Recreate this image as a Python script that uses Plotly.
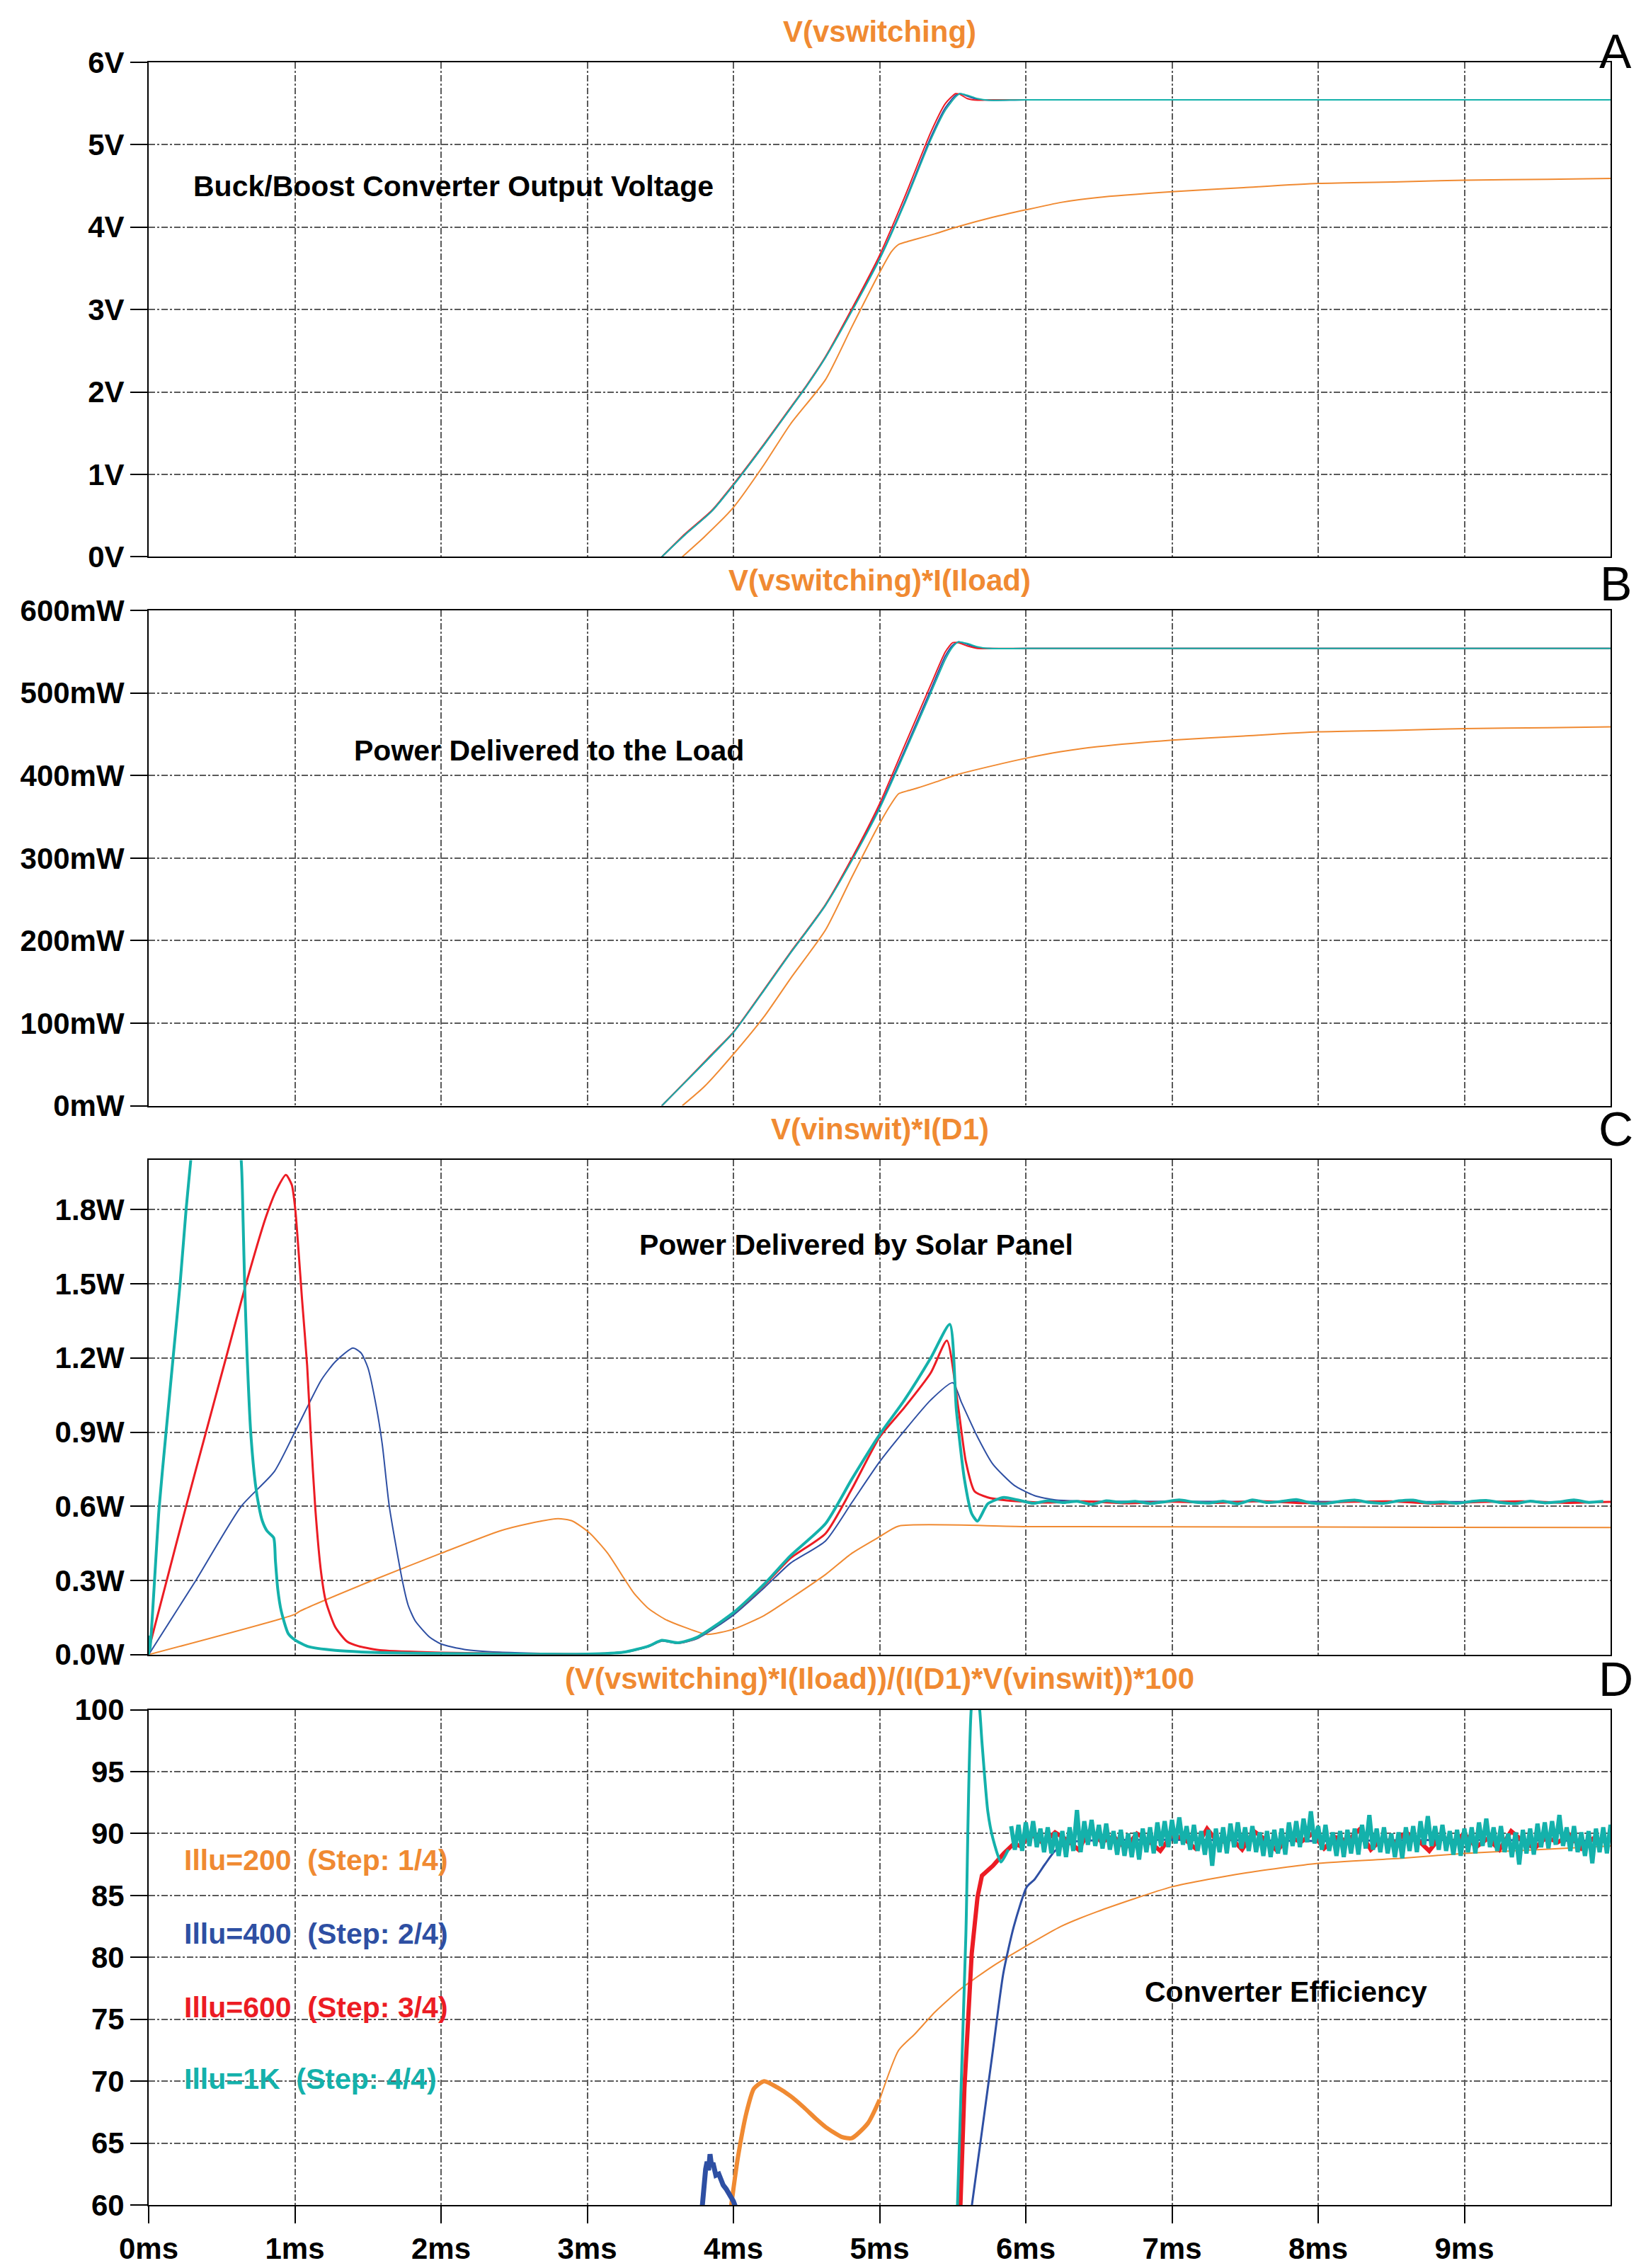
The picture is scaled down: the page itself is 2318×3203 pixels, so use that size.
import plotly.graph_objects as go
from plotly.subplots import make_subplots

# ---------------- colours of the four parameter steps ----------------
ORANGE = '#F08A32'
BLUE = '#2E4FA3'
RED = '#EC1C24'
CYAN = '#14B1AB'

# ---------------- axis ticks ----------------
x_tickvals = [0, 1, 2, 3, 4, 5, 6, 7, 8, 9]
x_ticktext = ['0ms', '1ms', '2ms', '3ms', '4ms', '5ms', '6ms', '7ms', '8ms', '9ms']
a_tickvals = [0, 1, 2, 3, 4, 5, 6]
a_ticktext = ['0V', '1V', '2V', '3V', '4V', '5V', '6V']
b_tickvals = [0, 100, 200, 300, 400, 500, 600]
b_ticktext = ['0mW', '100mW', '200mW', '300mW', '400mW', '500mW', '600mW']
c_tickvals = [0, 0.3, 0.6, 0.9, 1.2, 1.5, 1.8]
c_ticktext = ['0.0W', '0.3W', '0.6W', '0.9W', '1.2W', '1.5W', '1.8W']
d_tickvals = [60, 65, 70, 75, 80, 85, 90, 95, 100]
d_ticktext = ['60', '65', '70', '75', '80', '85', '90', '95', '100']

# ---------------- panel A: V(vswitching) [V] ----------------
t_a_fast = [3.51, 3.67, 3.85, 4.0, 4.21, 4.39, 4.5, 4.63, 4.81, 5.0, 5.17, 5.35,
            5.45, 5.52, 5.55, 5.6, 5.67, 5.75, 6.0, 10.0]
v_a_blue = [0, 0.27, 0.55, 0.87, 1.36, 1.80, 2.07, 2.42, 2.99, 3.62, 4.30, 5.09,
            5.45, 5.60, 5.62, 5.59, 5.55, 5.54, 5.545, 5.545]
v_a_red = [0, 0.28, 0.56, 0.88, 1.37, 1.81, 2.08, 2.43, 3.01, 3.66, 4.36, 5.15,
           5.50, 5.62, 5.61, 5.56, 5.54, 5.545, 5.545, 5.545]
v_a_cyan = [0, 0.27, 0.55, 0.87, 1.36, 1.80, 2.07, 2.42, 2.98, 3.61, 4.28, 5.06,
            5.42, 5.58, 5.62, 5.60, 5.56, 5.54, 5.545, 5.545]
t_a_orange = [3.65, 3.8, 4.0, 4.21, 4.39, 4.63, 4.81, 5.0, 5.08, 5.13, 5.18, 5.24,
              5.38, 5.525, 5.775, 6.0, 6.24, 6.49, 7.0, 7.49, 8.0, 8.56, 9.0, 9.57,
              10.0]
v_a_orange = [0, 0.24, 0.60, 1.12, 1.61, 2.15, 2.79, 3.45, 3.70, 3.79, 3.82, 3.85,
              3.92, 4.0, 4.12, 4.21, 4.30, 4.36, 4.43, 4.48, 4.53, 4.55, 4.57, 4.58,
              4.59]

# ---------------- panel B: V(vswitching)*I(Iload) [mW] ----------------
t_b_fast = [3.51, 3.67, 3.85, 4.0, 4.21, 4.39, 4.5, 4.63, 4.81, 5.0, 5.17, 5.35,
            5.45, 5.5, 5.54, 5.6, 5.67, 5.75, 6.0, 10.0]
p_b_blue = [0, 28.5, 61, 88.7, 140, 185, 211, 243, 298, 362, 430, 504,
            545, 558, 562, 559, 555, 554, 554, 554]
p_b_red = [0, 29, 62, 89.5, 141, 186, 212, 244, 300, 366, 436, 510,
           550, 561, 561, 557, 554, 554, 554, 554]
p_b_cyan = [0, 28.5, 61, 88.7, 140, 185, 211, 243, 297, 360, 427, 500,
            541, 556, 562, 560, 556, 554, 554, 554]
t_b_orange = [3.65, 3.8, 4.0, 4.21, 4.39, 4.63, 4.81, 5.0, 5.08, 5.13, 5.2, 5.26,
              5.38, 5.525, 5.775, 6.0, 6.24, 6.49, 7.0, 7.49, 8.0, 8.56, 9.0, 9.57,
              10.0]
p_b_orange = [0, 23, 62.5, 108, 154, 213, 277, 342, 366, 378, 382, 385,
              392, 401, 412, 421, 429, 435, 443, 448, 453, 455, 457, 458, 459]

# ---------------- panel C: V(vinswit)*I(D1) [W] ----------------
t_c_orange = [0, 1.0, 1.035, 1.53, 2.0, 2.4, 2.6, 2.8, 2.9, 3.02, 3.14, 3.25, 3.32,
              3.42, 3.53, 3.67, 3.82, 4.0, 4.21, 4.39, 4.63, 4.81, 5.0, 5.13, 6.0,
              8.0, 10.0]
p_c_orange = [0, 0.163, 0.176, 0.30, 0.41, 0.50, 0.53, 0.55, 0.54, 0.49, 0.41, 0.31,
              0.248, 0.186, 0.144, 0.11, 0.082, 0.103, 0.158, 0.227, 0.324, 0.41,
              0.477, 0.52, 0.518, 0.516, 0.514]
t_c_blue = [0, 0.312, 0.633, 0.859, 1.0, 1.18, 1.277, 1.397, 1.453, 1.5, 1.558,
            1.598, 1.646, 1.735, 1.775, 1.823, 1.92, 2.0, 2.16, 2.4, 2.96, 3.25,
            3.42, 3.51, 3.62, 3.75, 4.0, 4.21, 4.39, 4.63, 4.81, 5.0, 5.17, 5.35,
            5.50, 5.56, 5.67, 5.775, 5.92, 6.06, 6.2, 6.5, 10.0]
p_c_blue = [0, 0.29, 0.60, 0.74, 0.90, 1.11, 1.185, 1.24, 1.22, 1.16, 1.00,
            0.85, 0.60, 0.30, 0.20, 0.137, 0.072, 0.043, 0.021, 0.010, 0.003, 0.01,
            0.032, 0.055, 0.046, 0.064, 0.16, 0.27, 0.37, 0.46, 0.615, 0.78, 0.906,
            1.03, 1.10, 1.02, 0.88, 0.77, 0.685, 0.643, 0.626, 0.62, 0.618]
t_c_red = [0, 0.119, 0.256, 0.392, 0.529, 0.666, 0.802, 0.875, 0.939, 0.979, 1.003,
           1.05, 1.084, 1.108, 1.14, 1.18, 1.212, 1.277, 1.357, 1.437, 1.6, 2.0,
           2.5, 3.0, 3.25, 3.42, 3.51, 3.62, 3.75, 4.0, 4.21, 4.39, 4.63, 4.81, 5.0,
           5.17, 5.35, 5.46, 5.54, 5.59, 5.65, 5.74, 5.85, 6.1, 6.4, 6.7, 7.0, 7.3,
           7.6, 7.9, 8.2, 8.5, 8.8, 9.1, 9.4, 9.7, 10.0]
p_c_red = [0.02, 0.29, 0.60, 0.90, 1.20, 1.50, 1.77, 1.88, 1.94, 1.90, 1.80,
           1.43, 1.17, 0.90, 0.59, 0.33, 0.215, 0.111, 0.053, 0.034, 0.017, 0.008,
           0.004, 0.002, 0.01, 0.034, 0.057, 0.047, 0.068, 0.168, 0.28, 0.39, 0.49,
           0.67, 0.88, 1.0, 1.14, 1.27, 0.99, 0.78, 0.66, 0.636, 0.625, 0.615, 0.62,
           0.612, 0.619, 0.614, 0.621, 0.613, 0.618, 0.62, 0.611, 0.617, 0.62, 0.614,
           0.618]
t_c_cyan = [0, 0.002, 0.008, 0.071, 0.119, 0.167, 0.215, 0.256, 0.288, 0.45, 0.633,
            0.646, 0.657, 0.674, 0.698, 0.73, 0.754, 0.778, 0.81, 0.855, 0.867,
            0.883, 0.907, 0.955, 1.0, 1.084, 1.277, 1.6, 2.2, 3.0, 3.25, 3.42, 3.51,
            3.62, 3.75, 4.0, 4.21, 4.39, 4.63, 4.81, 5.0, 5.17, 5.35, 5.48, 5.525,
            5.58, 5.63, 5.67, 5.74, 5.85]
p_c_cyan = [0, 0.072, 0.02, 0.59, 0.90, 1.2, 1.5, 1.8, 2.0, 3.0, 2.0,
            1.75, 1.49, 1.2, 0.90, 0.69, 0.60, 0.54, 0.50, 0.473, 0.38,
            0.266, 0.176, 0.085, 0.06, 0.034, 0.017, 0.008, 0.004, 0.002, 0.01,
            0.035, 0.058, 0.048, 0.07, 0.17, 0.285, 0.40, 0.53, 0.71, 0.89, 1.03,
            1.20, 1.336, 0.99, 0.71, 0.57, 0.54, 0.61, 0.636]
# settled, slightly noisy part of the cyan trace (samples every 0.1 ms from 5.95 ms)
c_cyan_settled_start = 5.95
c_cyan_settled_step = 0.1
p_c_cyan_settled = [0.625, 0.612, 0.622, 0.615, 0.62, 0.608, 0.622, 0.616, 0.62, 0.611,
                    0.618, 0.626, 0.617, 0.613, 0.621, 0.61, 0.626, 0.615, 0.62, 0.627,
                    0.614, 0.611, 0.62, 0.625, 0.616, 0.612, 0.622, 0.625, 0.614, 0.618,
                    0.612, 0.62, 0.624, 0.615, 0.611, 0.621, 0.614, 0.618, 0.626, 0.616,
                    0.62]

# ---------------- panel D: efficiency [%] ----------------
t_d_orange_early = [3.98, 4.0, 4.03, 4.09, 4.14, 4.21, 4.3, 4.39, 4.48, 4.57, 4.63,
                    4.74, 4.81, 4.92, 5.0]
e_d_orange_early = [59.5, 61.3, 63.8, 67.5, 69.4, 70.0, 69.5, 68.8, 67.9, 66.9, 66.3,
                    65.5, 65.4, 66.6, 68.5]
t_d_orange_late = [5.0, 5.13, 5.24, 5.38, 5.56, 5.775, 6.0, 6.24, 6.49, 7.0, 7.49,
                   8.0, 8.56, 9.0, 9.5, 10.0]
e_d_orange_late = [68.5, 72.5, 73.8, 75.6, 77.5, 79.3, 80.9, 82.5, 83.7, 85.7, 86.8,
                   87.6, 88.0, 88.4, 88.7, 89.0]
t_d_blue_bump = [3.78, 3.79, 3.80, 3.81, 3.82, 3.83, 3.84, 3.85, 3.86, 3.88, 3.9,
                 3.93, 3.95, 3.98, 4.0, 4.04]
e_d_blue_bump = [59, 60.5, 61.8, 62.9, 63.5, 62.8, 64.1, 63.2, 63.4, 62.4, 62.5,
                 61.6, 61.3, 60.8, 60.3, 59]
t_d_blue = [5.62, 5.704, 5.775, 5.846, 5.918, 6.007, 6.06, 6.13, 6.2, 6.3, 7.0,
            8.0, 9.0, 10.0]
e_d_blue = [59, 66.3, 72.5, 78.7, 82.5, 85.7, 86.3, 87.5, 88.6, 89.3, 89.5,
            89.4, 89.5, 89.4]
t_d_red = [5.55, 5.58, 5.63, 5.67, 5.70, 5.775, 5.85, 5.92]
e_d_red = [59, 69.4, 80.3, 84.9, 86.6, 87.4, 88.4, 89.2]
d_red_settled_start = 5.96
d_red_settled_step = 0.08
e_d_red_settled = [89.0, 89.9, 89.2, 90.1, 89.5, 88.7, 90.3, 89.3, 89.8, 88.8, 90.0,
                   89.4, 88.6, 89.9, 89.6, 88.8, 90.4, 89.2, 89.7, 88.7, 90.2, 89.5,
                   88.6, 89.8, 89.3, 90.0, 88.8, 89.7, 89.4, 90.3, 88.7, 89.6, 89.2,
                   90.1, 89.5, 88.6, 89.8, 89.3, 90.0, 88.9, 89.6, 88.7, 90.2, 89.4,
                   88.8, 89.7, 89.3, 89.9, 88.8, 89.6, 89.4]
t_d_cyan = [5.53, 5.59, 5.63, 5.655, 5.68, 5.70, 5.74, 5.775, 5.83, 5.88]
e_d_cyan = [59, 81.8, 100.5, 101.5, 100.5, 97.4, 91.8, 89.6, 87.7, 88.7]
# settled cyan efficiency, read every 0.025 ms from 5.9 ms (dense switching ripple)
d_cyan_settled_start = 5.9
d_cyan_settled_step = 0.025
e_d_cyan_settled = [
    90.6, 88.7, 90.7, 88.6, 90.9, 89.0, 91.0, 88.9, 90.4, 88.5, 90.5, 88.4,
    90.1, 88.2, 90.2, 88.1, 90.5, 88.6, 91.9, 88.5, 91.0, 89.1, 91.1, 89.0,
    90.7, 88.8, 90.8, 88.7, 90.2, 88.3, 90.3, 88.2, 90.0, 88.1, 90.1, 87.9,
    90.4, 88.5, 90.5, 88.4, 90.9, 89.0, 91.0, 88.9, 91.1, 89.2, 91.3, 89.1,
    90.6, 88.7, 90.7, 88.6, 90.2, 88.3, 90.3, 87.4, 90.4, 88.5, 90.5, 88.4,
    90.8, 88.9, 90.9, 88.8, 90.5, 88.6, 90.6, 88.5, 90.1, 88.2, 90.2, 88.1,
    90.3, 88.4, 90.4, 88.3, 90.9, 89.0, 91.0, 88.9, 91.2, 89.3, 91.8, 89.2,
    90.6, 88.7, 90.7, 88.6, 90.1, 88.2, 90.2, 88.1, 90.3, 88.4, 90.4, 88.3,
    90.7, 88.8, 91.5, 88.7, 90.4, 88.5, 90.5, 88.4, 90.0, 88.1, 90.1, 88.0,
    90.5, 88.6, 90.6, 88.5, 91.0, 89.1, 91.4, 89.0, 90.6, 88.7, 90.7, 88.6,
    90.2, 88.3, 90.3, 88.2, 90.4, 88.5, 90.5, 88.4, 90.9, 89.0, 91.2, 88.9,
    90.5, 88.6, 90.6, 88.5, 90.0, 88.1, 90.1, 87.5, 90.3, 88.4, 90.4, 88.3,
    90.8, 88.9, 90.9, 88.8, 91.0, 89.1, 91.5, 89.0, 90.5, 88.6, 90.6, 88.5,
    90.1, 88.2, 90.2, 87.6, 90.4, 88.5, 90.5, 88.4, 90.7, 88.8, 90.8, 88.7]

panel_titles = ['V(vswitching)', 'V(vswitching)*I(Iload)', 'V(vinswit)*I(D1)',
                '(V(vswitching)*I(Iload))/(I(D1)*V(vinswit))*100']
panel_letters = ['A', 'B', 'C', 'D']
panel_notes = ['Buck/Boost Converter Output Voltage', 'Power Delivered to the Load',
               'Power Delivered by Solar Panel', 'Converter Efficiency']
step_labels = ['Illu=200\u00a0 (Step: 1/4)', 'Illu=400\u00a0 (Step: 2/4)',
               'Illu=600\u00a0 (Step: 3/4)', 'Illu=1K\u00a0 (Step: 4/4)']
step_colors = [ORANGE, BLUE, RED, CYAN]


def sampled(start, step, values):
    '''Time base for evenly sampled simulator output.'''
    return [round(start + i * step, 4) for i in range(len(values))]


# ---------------- page geometry (pixels) ----------------
W, H = 2318, 3203
PLOT_L, PLOT_R = 202, 2267
PLOT_T, PLOT_B = 80, 3113
panel_px = [(80, 780), (856, 1557), (1634, 2334), (2412, 3113)]
FONT = 'Liberation Sans, Arial, sans-serif'


def px_x(px):
    return (px - PLOT_L) / (PLOT_R - PLOT_L)


def px_y(py):
    return (PLOT_B - py) / (PLOT_B - PLOT_T)


fig = make_subplots(rows=4, cols=1, shared_xaxes=True, vertical_spacing=0.02)


def line(x, y, color, width, row, smooth=True):
    shape = {'shape': 'spline', 'smoothing': 0.6} if smooth else {}
    fig.add_trace(go.Scatter(x=x, y=y, mode='lines',
                             line={'color': color, 'width': width, **shape},
                             hoverinfo='skip', showlegend=False), row=row, col=1)


# Panel A
line(t_a_orange, v_a_orange, ORANGE, 2, 1)
line(t_a_fast, v_a_blue, BLUE, 2, 1)
line(t_a_fast, v_a_red, RED, 2, 1)
line(t_a_fast, v_a_cyan, CYAN, 2, 1)

# Panel B
line(t_b_orange, p_b_orange, ORANGE, 2, 2)
line(t_b_fast, p_b_blue, BLUE, 2, 2)
line(t_b_fast, p_b_red, RED, 2, 2)
line(t_b_fast, p_b_cyan, CYAN, 2, 2)

# Panel C
line(t_c_orange, p_c_orange, ORANGE, 2, 3)
line(t_c_blue, p_c_blue, BLUE, 2, 3)
line(t_c_red, p_c_red, RED, 3, 3)
line(t_c_cyan + sampled(c_cyan_settled_start, c_cyan_settled_step, p_c_cyan_settled),
     p_c_cyan + p_c_cyan_settled, CYAN, 4, 3)

# Panel D
line(t_d_orange_early, e_d_orange_early, ORANGE, 6, 4)
line(t_d_orange_late, e_d_orange_late, ORANGE, 2, 4)
line(t_d_blue_bump, e_d_blue_bump, BLUE, 7, 4, smooth=False)
line(t_d_blue, e_d_blue, BLUE, 3, 4)
line(t_d_red + sampled(d_red_settled_start, d_red_settled_step, e_d_red_settled),
     e_d_red + e_d_red_settled, RED, 6, 4, smooth=False)
line(t_d_cyan, e_d_cyan, CYAN, 4, 4)
line(sampled(d_cyan_settled_start, d_cyan_settled_step, e_d_cyan_settled),
     e_d_cyan_settled, CYAN, 6, 4, smooth=False)

tick_font = {'family': FONT, 'size': 42, 'color': 'black', 'weight': 'bold'}
axis_common = dict(showline=True, linecolor='black', linewidth=2, mirror=True,
                   showgrid=True, gridcolor='#5a5a5a', gridwidth=1.5, griddash='dashdot',
                   zeroline=False, tickcolor='black', tickwidth=2,
                   tickfont=tick_font)

y_specs = [([0, 6], a_tickvals, a_ticktext), ([0, 600], b_tickvals, b_ticktext),
           ([0, 2.0], c_tickvals, c_ticktext), ([60, 100], d_tickvals, d_ticktext)]
for i, (rng, tv, tt) in enumerate(y_specs):
    top, bottom = panel_px[i]
    fig.update_yaxes(range=rng, tickvals=tv, ticktext=tt, ticks='outside', ticklen=24,
                     domain=[px_y(bottom), px_y(top)], row=i + 1, col=1, **axis_common)
    fig.update_xaxes(range=[0, 10], tickvals=x_tickvals, ticktext=x_ticktext,
                     ticks='outside' if i == 3 else '', ticklen=24,
                     showticklabels=(i == 3), row=i + 1, col=1, **axis_common)

annotations = []
title_y = [36, 813, 1590, 2368]
letter_y = [64, 818, 1589, 2368]
note_pos = [(263, 255), (490, 1054), (893, 1754), (1607, 2811)]
for i in range(4):
    annotations.append(dict(
        text=panel_titles[i], x=0.5, y=px_y(title_y[i]), xref='paper', yref='paper',
        xanchor='center', yanchor='middle', showarrow=False,
        font={'family': FONT, 'size': 42, 'color': ORANGE, 'weight': 'bold'}))
    annotations.append(dict(
        text=panel_letters[i], x=px_x(2274), y=px_y(letter_y[i]), xref='paper',
        yref='paper', xanchor='center', yanchor='middle', showarrow=False,
        font={'family': FONT, 'size': 68, 'color': 'black'}))
    nx, ny = note_pos[i]
    annotations.append(dict(
        text=panel_notes[i], x=px_x(nx), y=px_y(ny), xref='paper', yref='paper',
        xanchor='left', yanchor='middle', showarrow=False,
        font={'family': FONT, 'size': 41, 'color': 'black', 'weight': 'bold'}))

step_y = [2625, 2729, 2833, 2935]
for label, color, sy in zip(step_labels, step_colors, step_y):
    annotations.append(dict(
        text=label, x=px_x(250), y=px_y(sy), xref='paper', yref='paper',
        xanchor='left', yanchor='middle', showarrow=False,
        font={'family': FONT, 'size': 41, 'color': color, 'weight': 'bold'}))

fig.update_layout(
    width=W, height=H,
    margin={'l': PLOT_L, 'r': W - PLOT_R, 't': PLOT_T, 'b': H - PLOT_B},
    plot_bgcolor='white', paper_bgcolor='white',
    showlegend=False,
    annotations=annotations,
)

fig.write_html('out.html')
